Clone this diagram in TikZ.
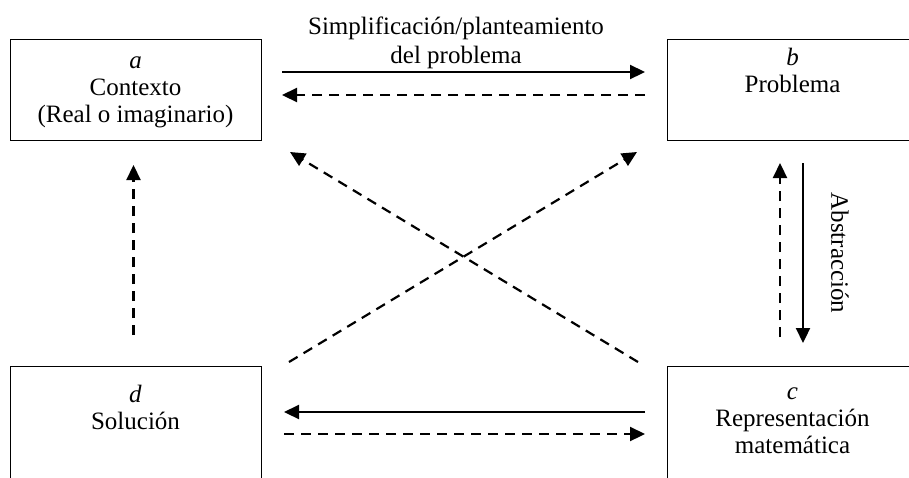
\documentclass[tikz,border=0pt]{standalone}
\usepackage{fontspec}
\setmainfont{Liberation Serif}
\usepackage{tikz}
\usetikzlibrary{arrows.meta,calc}

\begin{document}
\begin{tikzpicture}[x=0.5pt,y=-0.5pt,
            box/.style={draw,line width=0.5pt,inner sep=0pt,outer sep=0pt,minimum width=125.5pt},
            boxtext/.style={anchor=north,align=center,inner sep=0pt,font=\fontsize{12.5}{13.5}\selectfont},
            flow/.style={-{Triangle[length=7.5pt,width=7pt]},line width=1.1pt},
            dashflow/.style={flow,dash pattern=on 5pt off 3.5pt}]
            \useasboundingbox (0,0) rectangle (909,477);
            \clip (0,0) rectangle (909,477);  % lower boxes run off the page

            \node[box,minimum height=50.5pt] (a) at (135.5,89.5) {};
            \node[box,minimum height=50.5pt] (b) at (792.5,89.5) {};
            \node[box,minimum height=58pt] (c) at (792.5,424) {};
            \node[box,minimum height=58pt] (d) at (135.5,424) {};

            \node[boxtext] (atext) at ([yshift=-5pt]a.north) {\strut\textit{a}\\Contexto\\(Real o imaginario)};
            \node[boxtext] (btext) at ([yshift=-3.6pt]b.north) {\strut\textit{b}\\Problema};
            \node[boxtext] (ctext) at ([yshift=-7.2pt]c.north) {\strut\textit{c}\\Representación\\matemática};
            \node[boxtext] (dtext) at ([yshift=-8.6pt]d.north) {\strut\textit{d}\\Solución};

            % top pair
            \draw[flow,shorten <=10.5pt,shorten >=11pt] ([yshift=8.75pt]a.east) -- ([yshift=8.75pt]b.west)
                node[midway,above,inner sep=1.2pt,xshift=-4pt,align=center,font=\fontsize{12.5}{14.5}\selectfont] (simp) {Simplificación/planteamiento\\del problema};
            \draw[dashflow,shorten <=11pt,shorten >=10.5pt] ([yshift=-2.75pt]b.west) -- ([yshift=-2.75pt]a.east);

            % bottom pair
            \draw[flow,shorten <=11pt,shorten >=11.5pt] ([yshift=6pt]c.west) -- ([yshift=6pt]d.east);
            \draw[dashflow,shorten <=11.5pt,shorten >=11pt] ([yshift=-5pt]d.east) -- ([yshift=-5pt]c.west);

            % verticals
            \draw[dashflow,shorten <=15.5pt,shorten >=12.5pt] ([xshift=-1pt]d.north) -- ([xshift=-1pt]a.south);
            \draw[dashflow,shorten <=14.5pt,shorten >=11.5pt] ([xshift=-6.25pt]c.north) -- ([xshift=-6.25pt]b.south);
            \draw[flow,shorten <=11.5pt,shorten >=11.5pt] ([xshift=5.25pt]b.south) -- ([xshift=5.25pt]c.north)
                node[midway,anchor=south,rotate=-90,inner sep=13.5pt,font=\fontsize{12.5}{14.5}\selectfont] (abst) {Abstracción};

            % diagonals
            \draw[dashflow] ([xshift=14pt,yshift=2pt]d.north east) -- ([xshift=-15pt,yshift=-6pt]b.south west);
            \draw[dashflow] ([xshift=-14.5pt,yshift=2pt]c.north west) -- ([xshift=14.5pt,yshift=-6pt]a.south east);

\end{tikzpicture}
\end{document}
